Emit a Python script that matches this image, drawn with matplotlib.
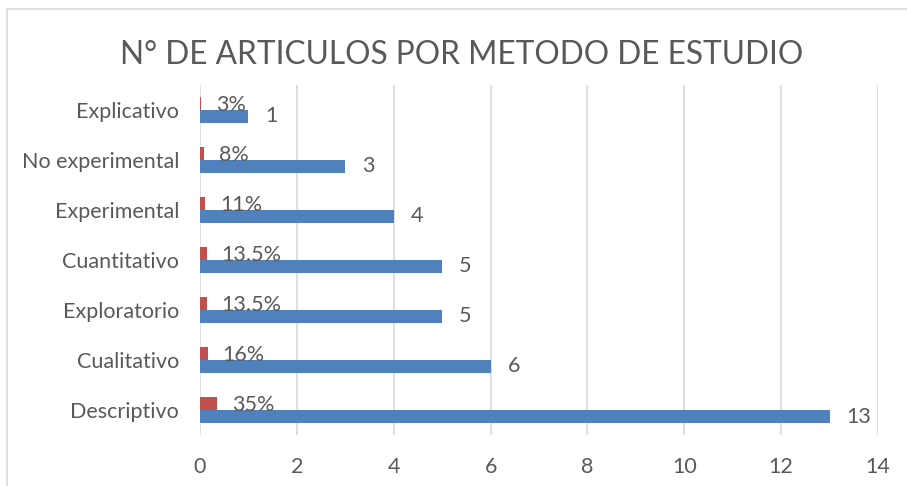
import matplotlib.pyplot as plt
from matplotlib.patches import Rectangle

plt.rcParams['font.family'] = ['Lato', 'DejaVu Sans']

categorias = ['Descriptivo', 'Cualitativo', 'Exploratorio', 'Cuantitativo',
              'Experimental', 'No experimental', 'Explicativo']
articulos = [13, 6, 5, 5, 4, 3, 1]
porcentaje = [0.35, 0.16, 0.135, 0.135, 0.11, 0.08, 0.03]
etiquetas_pct = ['35%', '16%', '13.5%', '13.5%', '11%', '8%', '3%']

azul = '#4F81BD'
rojo = '#C0504D'
gris_texto = '#595959'
gris_linea = '#D9D9D9'

W, H = 907, 486
fig = plt.figure(figsize=(W / 100, H / 100), dpi=100)

# marco del grafico (recortado a la derecha y abajo)
fig.patches.append(Rectangle((7 / W, -0.1), 1.2, 1 - 9 / H + 0.1,
                             transform=fig.transFigure, fill=False,
                             edgecolor=gris_linea, linewidth=1.2))

ax = fig.add_axes([200 / W, 1 - 435 / H, 678 / W, 350 / H])

y = list(range(len(categorias)))
h = 0.26
ax.barh([v + h / 2 for v in y], porcentaje, height=h, color=rojo, zorder=3)
ax.barh([v - h / 2 for v in y], articulos, height=h, color=azul, zorder=3)

for i in y:
    ax.annotate(etiquetas_pct[i], (porcentaje[i], i + h / 2 - 0.03),
                xytext=(15, 0), textcoords='offset pixels',
                ha='left', va='center', fontsize=15.5, color=gris_texto, zorder=4)
    ax.annotate(str(articulos[i]), (articulos[i], i - h / 2),
                xytext=(17, 0), textcoords='offset pixels',
                ha='left', va='center', fontsize=15.5, color=gris_texto, zorder=4)

ax.set_xlim(0, 14)
ax.set_ylim(-0.5, len(categorias) - 0.5)
ax.set_xticks(range(0, 15, 2))
ax.set_yticks(y)
ax.set_yticklabels(categorias)
ax.grid(axis='x', color=gris_linea, linewidth=1.2, zorder=0)
for s in ax.spines.values():
    s.set_visible(False)
ax.tick_params(length=0, labelsize=15.5, colors=gris_texto)
ax.tick_params(axis='x', pad=16)
ax.tick_params(axis='y', pad=15)

fig.text(462 / W, 1 - 55 / H, 'N° DE ARTICULOS POR METODO DE ESTUDIO',
         ha='center', va='center', fontsize=22.8, color=gris_texto)

fig.savefig('out.png', dpi=100)
